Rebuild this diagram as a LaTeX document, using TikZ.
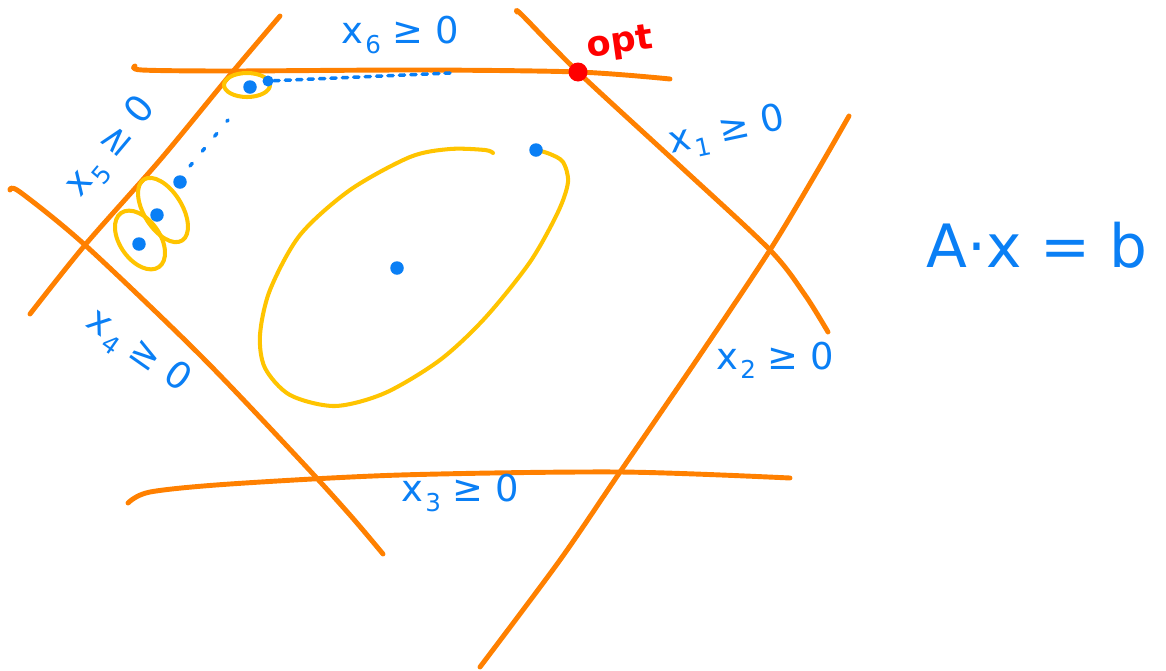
\documentclass[tikz,border=0pt]{standalone}
\usepackage{fontspec}
\newfontfamily\hand{DejaVu Sans}
\definecolor{ora}{HTML}{FF8000}
\definecolor{yel}{HTML}{FFC400}
\definecolor{blu}{HTML}{0A7FF5}
\definecolor{rd}{HTML}{FF0000}
\newcommand\xsub[1]{x\kern1.5pt\raisebox{-0.25em}{\fontsize{14}{14}\selectfont #1}}
\begin{document}
\begin{tikzpicture}[x=0.02cm,y=-0.02cm, line cap=round, line join=round]
\tikzset{
  cline/.style={draw=ora, line width=2.8pt},
  yline/.style={draw=yel, line width=2.3pt},
  bdot/.style={fill=blu, circle, inner sep=0pt, minimum size=0.27cm},
  bdots/.style={draw=blu, line width=2pt, dash pattern=on 3pt off 3.5pt},
  lbl/.style={text=blu, font=\hand\fontsize{21}{25}\selectfont, inner sep=0pt}
}
\useasboundingbox (0,0) rectangle (1166,670);
% orange constraint lines
\draw[cline] plot[smooth] coordinates {(135,66) (142,70) (230,71) (420,70) (578,72) (670,79)};
\draw[cline] plot[smooth] coordinates {(30,314) (85,245) (160,160) (230,75) (280,16)};
\draw[cline] plot[smooth] coordinates {(10,190) (20,192) (85,245) (200,355) (300,460) (350,515) (383,554)};
\draw[cline] plot[smooth] coordinates {(128,503) (150,492) (230,484) (400,475) (620,472) (790,478)};
\draw[cline] plot[smooth] coordinates {(480,667) (560,560) (620,472) (700,355) (770,250) (815,175) (849,116)};
\draw[cline] plot[smooth] coordinates {(517,12) (522,15) (578,72) (680,166) (770,250) (805,295) (828,332)};
% big yellow ellipse
\draw[yline] plot[smooth] coordinates {(493,153) (485,150) (450,149) (410,157) (350,190) (300,235) (270,290) (260,335) (265,368) (290,395) (335,406) (385,393) (440,360) (485,318) (530,262) (558,212) (568,182) (563,162) (550,154) (537,150)};
% small yellow ellipses
\draw[yline] (247,85) ellipse [x radius=23, y radius=12];
\draw[yline, rotate around={-58:(163,210)}] (163,210) ellipse [x radius=36, y radius=19];
\draw[yline, rotate around={-55:(140,240)}] (140,240) ellipse [x radius=33, y radius=20];
% blue dots
\node[bdot] (c) at (397,268) {};
\node[bdot] (t) at (536,150) {};
\node[bdot] (p1) at (250,87) {};
\node[bdot, minimum size=0.22cm] (p2) at (268,81) {};
\node[bdot] (q1) at (180,182) {};
\node[bdot] (q2) at (157,215) {};
\node[bdot] (q3) at (139,244) {};
\coordinate (pe) at (450,73);
\coordinate (qs) at (190,166);
\coordinate (qe) at (228,120);
\draw[bdots] (p2) -- (pe);
\draw[bdots, dash pattern=on 2pt off 9pt] (qs) -- (qe);
% optimum
\node[fill=rd, circle, inner sep=0pt, minimum size=0.38cm] (opt) at (578,72) {};
\node[text=rd, font=\hand\fontsize{20}{24}\selectfont\bfseries, rotate=8, inner sep=0pt] (optl) at (620,44) {opt};
% labels
\node[lbl] (l6) at (400,35) {\xsub{6} ≥ 0};
\node[lbl, rotate=12] (l1) at (727,132) {\xsub{1} ≥ 0};
\node[lbl, rotate=50] (l5) at (112,148) {\xsub{5} ≥ 0};
\node[lbl, rotate=-35] (l4) at (138,352) {\xsub{4} ≥ 0};
\node[lbl] (l2) at (775,360) {\xsub{2} ≥ 0};
\node[lbl] (l3) at (460,493) {\xsub{3} ≥ 0};
\node[text=blu, font=\hand\fontsize{34}{40}\selectfont, inner sep=0pt, anchor=west] (eq) at (926,245) {A·x = b};
\end{tikzpicture}
\end{document}
